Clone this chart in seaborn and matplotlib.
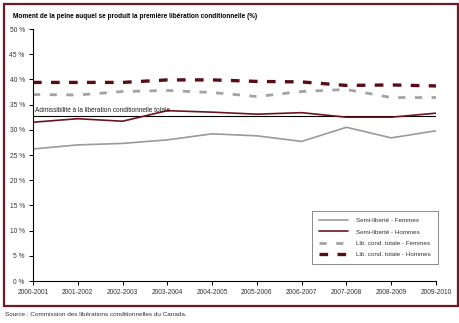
import matplotlib
matplotlib.use("Agg")
import matplotlib.pyplot as plt
import seaborn as sns
import pandas as pd
from matplotlib.patches import Rectangle

years = ["2000-2001", "2001-2002", "2002-2003", "2003-2004", "2004-2005",
         "2005-2006", "2006-2007", "2007-2008", "2008-2009", "2009-2010"]
semi_femmes = [26.2, 27.0, 27.3, 28.0, 29.2, 28.8, 27.7, 30.5, 28.4, 29.8]
semi_hommes = [31.5, 32.2, 31.7, 33.8, 33.5, 33.1, 33.4, 32.5, 32.5, 33.3]
lct_femmes = [37.0, 36.9, 37.6, 37.8, 37.4, 36.6, 37.6, 38.0, 36.4, 36.4]
lct_hommes = [39.4, 39.4, 39.4, 39.9, 39.9, 39.6, 39.5, 38.8, 38.9, 38.7]
admissibilite = 32.7
y_ticks = [0, 5, 10, 15, 20, 25, 30, 35, 40, 45, 50]
y_labels = [f"{v} %" for v in y_ticks]

series_names = ["Semi-liberté - Femmes", "Semi-liberté - Hommes",
                "Lib. cond. totale - Femmes", "Lib. cond. totale - Hommes"]
series_values = [semi_femmes, semi_hommes, lct_femmes, lct_hommes]

sns.set_theme(style="white")
plt.rcParams['font.family'] = ['Liberation Sans', 'DejaVu Sans']

fig = plt.figure(figsize=(4.6, 3.23), dpi=100)
ax = fig.add_axes([33/460, 1-281/323, (436-33)/460, (281-29)/323])

styles = [
    dict(color="#9a9a9a", linewidth=1.2, linestyle="-"),
    dict(color="#6b1422", linewidth=1.2, linestyle="-"),
    dict(color="#a3a3a3", linewidth=2.0, linestyle=(0, (2.6, 3.4))),
    dict(color="#5a0c16", linewidth=2.4, linestyle=(0, (2.6, 2.8))),
]

idx = list(range(len(years)))
for name, vals, st in zip(series_names, series_values, styles):
    df = pd.DataFrame({"x": idx, "y": vals})
    sns.lineplot(data=df, x="x", y="y", ax=ax, label=name, **st)

ax.hlines(admissibilite, 0, len(years) - 1, color="black", linewidth=0.8, zorder=1)
ax.text(0.05, admissibilite + 0.5, "Admissibilité à la libération conditionnelle totale",
        fontsize=4.7, color="#222222", va="bottom", ha="left")

ax.set_xlim(0, len(years) - 1)
ax.set_ylim(0, 50)
ax.set_xticks(idx)
ax.set_xticklabels(years)
ax.set_yticks(y_ticks)
ax.set_yticklabels(y_labels)
ax.set_xlabel("")
ax.set_ylabel("")
for s in ["top", "right"]:
    ax.spines[s].set_visible(False)
for s in ["left", "bottom"]:
    ax.spines[s].set_color("black")
    ax.spines[s].set_linewidth(0.8)
ax.tick_params(axis="both", labelsize=4.8, labelcolor="#333333", length=3,
               width=0.7, color="black", direction="out", left=True, bottom=True, pad=3)
ax.grid(False)

leg = ax.legend(loc="lower right", bbox_to_anchor=(438/460, 1-264/323),
                bbox_transform=fig.transFigure, borderaxespad=0, fontsize=4.5,
                frameon=True, fancybox=False, handlelength=4.6, handletextpad=1.4,
                labelspacing=0.95, borderpad=1.1)
leg.get_frame().set_edgecolor("#555555")
leg.get_frame().set_linewidth(0.6)
for t in leg.get_texts():
    t.set_color("#333333")

fig.text(13/460, 1-17/323, "Moment de la peine auquel se produit la première libération conditionnelle (%)",
         fontsize=4.7, fontweight="bold", color="black", va="center", ha="left")
fig.text(5/460, 1-314/323, "Source : Commission des libérations conditionnelles du Canada.",
         fontsize=4.6, color="#333333", va="center", ha="left")

fig.patches.append(Rectangle((4/460, 1-306/323), 454/460, 302/323, transform=fig.transFigure,
                             fill=False, edgecolor="#6e1a28", linewidth=1.6, zorder=10))

fig.savefig("out.png", dpi=100)
